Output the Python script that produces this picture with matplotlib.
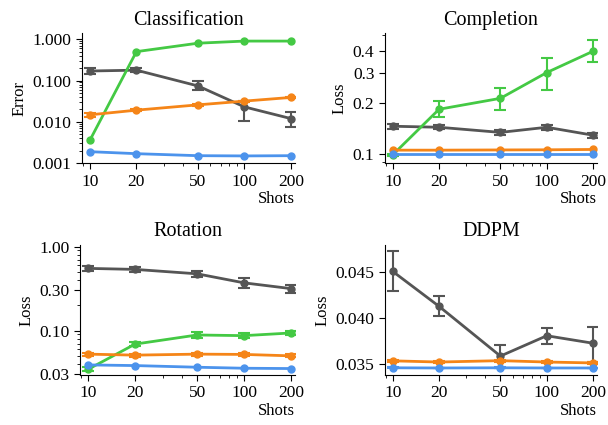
import numpy as np
import matplotlib
matplotlib.use('Agg')
import matplotlib.pyplot as plt
from matplotlib.ticker import FixedLocator, FormatStrFormatter, NullFormatter

plt.rcParams['font.family'] = ['Liberation Serif', 'DejaVu Serif']

shots = [10, 20, 50, 100, 200]

# Classification (error)
cls_gray = [0.170, 0.178, 0.074, 0.023, 0.012]
cls_gray_lo = [0.142, 0.160, 0.058, 0.0105, 0.0076]
cls_gray_hi = [0.198, 0.200, 0.095, 0.032, 0.017]
cls_green = [0.0036, 0.50, 0.80, 0.90, 0.90]
cls_orange = [0.0148, 0.0192, 0.0258, 0.0318, 0.0390]
cls_blue = [0.0019, 0.0017, 0.00152, 0.0015, 0.00152]

# Completion (loss)
cmp_gray = [0.1456, 0.1436, 0.134, 0.1436, 0.129]
cmp_gray_err = [0.005, 0.004, 0.004, 0.005, 0.004]
cmp_green = [0.099, 0.183, 0.212, 0.300, 0.400]
cmp_green_lo = [0.098, 0.165, 0.180, 0.238, 0.345]
cmp_green_hi = [0.100, 0.204, 0.245, 0.366, 0.467]
cmp_orange = [0.1055, 0.1055, 0.1058, 0.106, 0.1065]
cmp_blue = [0.100, 0.100, 0.100, 0.100, 0.100]

# Rotation (loss)
rot_gray = [0.550, 0.535, 0.474, 0.370, 0.316]
rot_gray_err = [0.045, 0.035, 0.045, 0.050, 0.035]
rot_green = [0.0346, 0.069, 0.0886, 0.087, 0.0936]
rot_green_err = [0.002, 0.004, 0.008, 0.006, 0.006]
rot_orange = [0.0524, 0.0510, 0.0524, 0.0520, 0.0500]
rot_blue = [0.0390, 0.0383, 0.0366, 0.0356, 0.0353]

# DDPM (loss)
ddpm_gray = [0.0451, 0.04128, 0.03585, 0.03807, 0.03725]
ddpm_gray_lo = [0.0430, 0.0402, 0.0346, 0.0372, 0.0352]
ddpm_gray_hi = [0.0473, 0.0424, 0.0371, 0.0389, 0.0390]
ddpm_orange = [0.03533, 0.0352, 0.03535, 0.0352, 0.0351]
ddpm_blue = [0.03457, 0.03455, 0.03457, 0.03455, 0.03455]

c_gray = '#555555'
c_green = '#44c944'
c_orange = '#f58518'
c_blue = '#4c93ec'


def draw(ax, y, c, err=None, lo=None, hi=None):
    y = np.array(y)
    if lo is not None:
        yerr = [y - np.array(lo), np.array(hi) - y]
    else:
        yerr = err
    ax.errorbar(shots, y, yerr=yerr, color=c, lw=2, marker='o', ms=5,
                capsize=4, capthick=1.5, elinewidth=1.5)


fig = plt.figure(figsize=(6.08, 4.25), dpi=100)
boxes = [[0.135, 0.616, 0.350, 0.306], [0.633, 0.616, 0.349, 0.306],
         [0.132, 0.118, 0.353, 0.306], [0.633, 0.118, 0.349, 0.306]]
axs = [fig.add_axes(b) for b in boxes]

ax = axs[0]
draw(ax, cls_gray, c_gray, lo=cls_gray_lo, hi=cls_gray_hi)
draw(ax, cls_green, c_green)
draw(ax, cls_orange, c_orange, err=[0.0015, 0.001, 0.001, 0.001, 0.001])
draw(ax, cls_blue, c_blue)
ax.set_yscale('log')
ax.set_ylim(0.001, 1.4)
ax.yaxis.set_major_locator(FixedLocator([0.001, 0.01, 0.1, 1.0]))
ax.yaxis.set_major_formatter(FormatStrFormatter('%.3f'))
ax.yaxis.set_minor_formatter(NullFormatter())
ax.set_ylabel('Error')
ax.set_title('Classification')

ax = axs[1]
draw(ax, cmp_gray, c_gray, err=cmp_gray_err)
draw(ax, cmp_green, c_green, lo=cmp_green_lo, hi=cmp_green_hi)
draw(ax, cmp_orange, c_orange)
draw(ax, cmp_blue, c_blue)
ax.set_yscale('log')
ax.set_ylim(0.0885, 0.51)
ax.yaxis.set_major_locator(FixedLocator([0.1, 0.2, 0.3, 0.4]))
ax.yaxis.set_major_formatter(FormatStrFormatter('%.1f'))
ax.yaxis.set_minor_locator(FixedLocator([0.09, 0.5]))
ax.yaxis.set_minor_formatter(NullFormatter())
ax.set_ylabel('Loss')
ax.set_title('Completion')

ax = axs[2]
draw(ax, rot_gray, c_gray, err=rot_gray_err)
draw(ax, rot_green, c_green, err=rot_green_err)
draw(ax, rot_orange, c_orange, err=[0.002] * 5)
draw(ax, rot_blue, c_blue)
ax.set_yscale('log')
ax.set_ylim(0.0297, 1.05)
ax.yaxis.set_major_locator(FixedLocator([0.03, 0.1, 0.3, 1.0]))
ax.yaxis.set_major_formatter(FormatStrFormatter('%.2f'))
ax.yaxis.set_minor_formatter(NullFormatter())
ax.set_ylabel('Loss')
ax.set_title('Rotation')

ax = axs[3]
draw(ax, ddpm_gray, c_gray, lo=ddpm_gray_lo, hi=ddpm_gray_hi)
draw(ax, ddpm_orange, c_orange, err=[0.0001] * 5)
draw(ax, ddpm_blue, c_blue, err=[0.00005] * 5)
ax.set_ylim(0.0338, 0.0480)
ax.yaxis.set_major_locator(FixedLocator([0.035, 0.040, 0.045]))
ax.yaxis.set_major_formatter(FormatStrFormatter('%.3f'))
ax.set_ylabel('Loss')
ax.set_title('DDPM')

for ax in axs:
    ax.set_xscale('log')
    ax.set_xlim(8.9, 212)
    ax.xaxis.set_major_locator(FixedLocator(shots))
    ax.xaxis.set_major_formatter(FormatStrFormatter('%d'))
    ax.xaxis.set_minor_formatter(NullFormatter())
    ax.set_xlabel('Shots', loc='right', fontsize=12, labelpad=1)
    ax.spines['top'].set_visible(False)
    ax.spines['right'].set_visible(False)
    ax.tick_params(labelsize=12.5)
    ax.tick_params(which='major', length=4)
    ax.title.set_fontsize(14.5)
    ax.yaxis.label.set_fontsize(12)

fig.savefig('out.png', dpi=100)
